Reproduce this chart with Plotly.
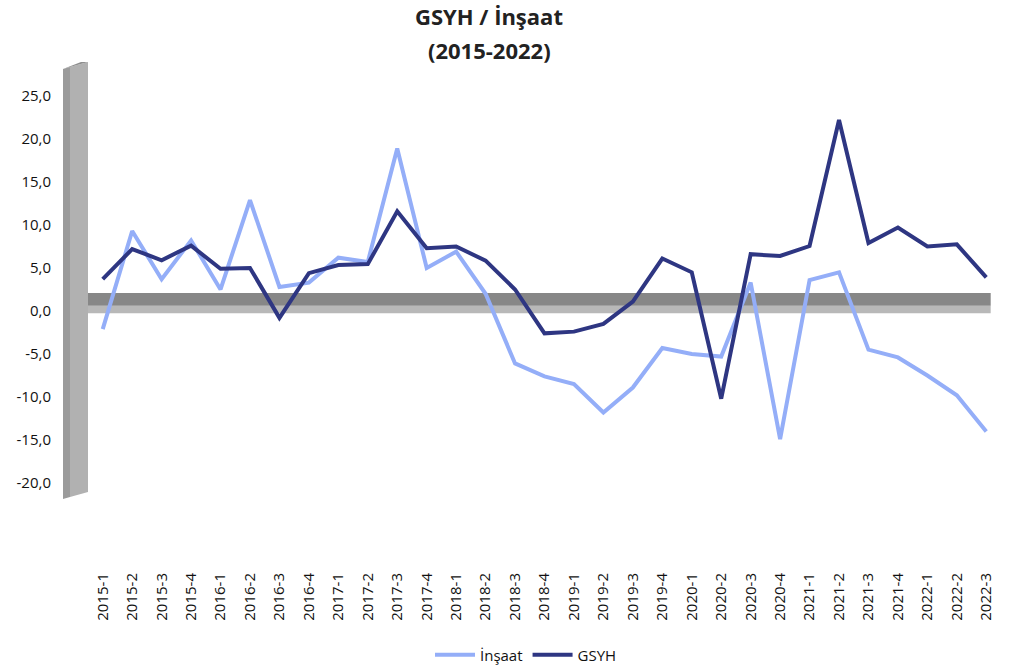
import plotly.graph_objects as go

categories = ["2015-1", "2015-2", "2015-3", "2015-4", "2016-1", "2016-2", "2016-3", "2016-4",
              "2017-1", "2017-2", "2017-3", "2017-4", "2018-1", "2018-2", "2018-3", "2018-4",
              "2019-1", "2019-2", "2019-3", "2019-4", "2020-1", "2020-2", "2020-3", "2020-4",
              "2021-1", "2021-2", "2021-3", "2021-4", "2022-1", "2022-2", "2022-3"]

insaat = [-2.1, 9.3, 3.7, 8.2, 2.5, 12.9, 2.8, 3.3,
          6.2, 5.7, 18.9, 5.0, 6.9, 2.0, -6.1, -7.6,
          -8.5, -11.8, -8.9, -4.3, -5.0, -5.3, 3.3, -14.9,
          3.6, 4.5, -4.5, -5.4, -7.5, -9.8, -14.0]

gsyh = [3.7, 7.2, 5.9, 7.6, 4.9, 5.0, -0.8, 4.4,
        5.35, 5.45, 11.6, 7.3, 7.5, 5.85, 2.5, -2.6,
        -2.4, -1.5, 1.1, 6.1, 4.5, -10.2, 6.6, 6.4,
        7.55, 22.2, 7.9, 9.7, 7.5, 7.75, 3.9]

y_ticks = [25, 20, 15, 10, 5, 0, -5, -10, -15, -20]
y_tick_labels = ["25,0", "20,0", "15,0", "10,0", "5,0", "0,0", "-5,0", "-10,0", "-15,0", "-20,0"]

W, H = 1013, 668
ML, MR, MT, MB = 88, 12, 62, 169
PW = W - ML - MR
PH = H - MT - MB


def px(x):
    return (x - ML) / PW


def py(y):
    return (H - MB - y) / PH


FONT = "Open Sans, Noto Sans, sans-serif"

fig = go.Figure()
fig.add_trace(go.Scatter(x=categories, y=insaat, mode="lines", name="İnşaat",
                         line=dict(color="#94AEF8", width=4)))
fig.add_trace(go.Scatter(x=categories, y=gsyh, mode="lines", name="GSYH",
                         line=dict(color="#2E3682", width=4)))

shapes = []
# floor band at zero
shapes.append(dict(type="rect", xref="x", yref="y", x0=-0.5, x1=30.15, y0=-0.25, y1=0.6,
                   fillcolor="#B8B8B8", line=dict(width=0), layer="below"))
shapes.append(dict(type="rect", xref="x", yref="y", x0=-0.5, x1=30.15, y0=0.6, y1=2.1,
                   fillcolor="#878787", line=dict(width=0), layer="below"))


def path(pts):
    return "M " + " L ".join(f"{px(a):.5f},{py(b):.5f}" for a, b in pts) + " Z"


# left wall (3D look)
shapes.append(dict(type="path", xref="paper", yref="paper",
                   path=path([(63, 69), (70, 67), (70, 497), (63, 499)]),
                   fillcolor="#9B9B9B", line=dict(width=0)))
shapes.append(dict(type="path", xref="paper", yref="paper",
                   path=path([(70, 67), (88, 62), (88, 492), (70, 497)]),
                   fillcolor="#B1B1B1", line=dict(width=0)))
shapes.append(dict(type="path", xref="paper", yref="paper",
                   path=path([(63, 69), (81, 62), (88, 62), (70, 67)]),
                   fillcolor="#8E8E8E", line=dict(width=0)))

annotations = [
    dict(text="<b>GSYH / İnşaat</b>", xref="paper", yref="paper", x=px(489), y=py(16),
         xanchor="center", yanchor="middle", showarrow=False,
         font=dict(family=FONT, size=22, color="#222222")),
    dict(text="<b>(2015-2022)</b>", xref="paper", yref="paper", x=px(489), y=py(50),
         xanchor="center", yanchor="middle", showarrow=False,
         font=dict(family=FONT, size=22, color="#222222")),
]

fig.update_layout(
    width=W, height=H,
    margin=dict(l=ML, r=MR, t=MT, b=MB, autoexpand=False),
    paper_bgcolor="white", plot_bgcolor="white",
    font=dict(family=FONT, size=15, color="#111111"),
    shapes=shapes, annotations=annotations,
    showlegend=True,
    legend=dict(orientation="h", x=px(526), y=py(655), xanchor="center", yanchor="middle",
                font=dict(family=FONT, size=15, color="#111111"), itemwidth=40),
    xaxis=dict(type="category", range=[-0.5, 30.5], showgrid=False, zeroline=False,
               showline=False, ticks="", tickangle=-90, ticklabelstandoff=70,
               tickfont=dict(family=FONT, size=15)),
    yaxis=dict(range=[-21.86, 28.95],
               tickvals=y_ticks, ticktext=y_tick_labels, showgrid=False, zeroline=False,
               showline=False, ticks="", ticklabelstandoff=36,
               tickfont=dict(family=FONT, size=15)),
)

fig.write_html("out.html", config={"displayModeBar": False},
               post_script="document.body.style.margin='0';document.body.style.overflow='hidden';")
